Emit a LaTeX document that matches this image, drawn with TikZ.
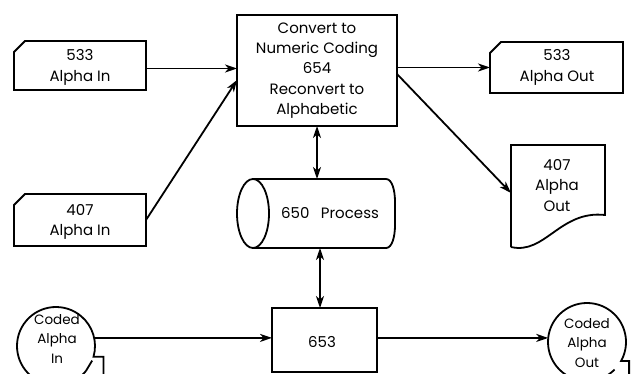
\documentclass[tikz,border=0pt]{standalone}
\usepackage{fontspec}
\setmainfont{Poppins}
\usetikzlibrary{arrows.meta,calc}
\begin{document}
\begin{tikzpicture}[x=1pt,y=-1pt,line width=1.8pt,
  txt/.style={align=center,font=\fontsize{15}{20.3}\selectfont,inner sep=0pt},
  ctxt/.style={align=center,font=\fontsize{13.5}{19.5}\selectfont,inner sep=0pt},
  area/.style={draw=none,inner sep=0pt,outer sep=0pt},
  boxn/.style={draw,inner sep=0pt,outer sep=0pt,align=center,font=\fontsize{15}{20.3}\selectfont},
  arr/.style={-{Stealth[length=12pt,width=8pt,inset=3.5pt]}},
  darr/.style={{Stealth[length=12pt,width=8pt,inset=3.5pt]}-{Stealth[length=12pt,width=8pt,inset=3.5pt]}}]
\useasboundingbox (0,0) rectangle (631,374);

% main box
\node[boxn,minimum width=160pt,minimum height=111pt] (conv) at (317,70.5)
  {Convert to\\Numeric Coding\\654\\Reconvert to\\Alphabetic};

% input cards
\node[area,minimum width=132pt,minimum height=49pt] (a533) at (80,65.5) {};
\node[txt] (a533t) at (80,67.5) {533\\Alpha In};
\draw ($(a533.north west)+(0,11)$) -- ($(a533.north west)+(11,0)$) -- (a533.north east)
  -- (a533.south east) -- (a533.south west) -- cycle;

\node[area,minimum width=132pt,minimum height=52pt] (a407) at (80,220) {};
\node[txt] (a407t) at (80,222) {407\\Alpha In};
\draw ($(a407.north west)+(0,11)$) -- ($(a407.north west)+(11,0)$) -- (a407.north east)
  -- (a407.south east) -- (a407.south west) -- cycle;

% output card
\node[area,minimum width=133pt,minimum height=51pt] (o533) at (556.5,67.5) {};
\node[txt] (o533t) at (557,67.5) {533\\Alpha Out};
\draw ($(o533.north west)+(0,11)$) -- ($(o533.north west)+(11,0)$) -- (o533.north east)
  -- (o533.south east) -- (o533.south west) -- cycle;

% document
\node[area,minimum width=94pt,minimum height=102pt] (o407) at (558,196) {};
\node[txt] (o407t) at (557,185.5) {407\\Alpha\\Out};
\draw (o407.south west) -- (o407.north west) -- (o407.north east) -- (605,215)
  .. controls (560,210) and (545,255) .. (o407.south west);

% cylinder
\node[area,minimum width=158pt,minimum height=69pt] (proc) at (316,213.5) {};
\node[txt] (proct) at (330,213) {650\hspace{0.5em} Process};
\draw (253,213.5) ellipse [x radius=16, y radius=34.5];
\draw (253,179) -- (386,179) .. controls (392,179) and (395,190) .. (395,202)
  -- (395,225) .. controls (395,237) and (392,248) .. (386,248) -- (253,248);

% 653 box
\node[boxn,minimum width=105pt,minimum height=64pt] (b653) at (324.5,340) {};
\node[txt] (b653t) at (322,342) {653};

% coded tapes
\node[area,minimum size=78pt,circle] (cin) at (56,346) {};
\node[ctxt] (cint) at (57,339) {Coded\\Alpha\\In};
\draw ($(cin.center)+(40:39)$) arc[start angle=40,end angle=376,radius=39] -- ++(10,0) -- ++(0,30);
\draw ($(cin.center)+(40:39)$) -- ($(cin.center)+(22:39)$);

\node[area,minimum size=78pt,circle] (cout) at (587,342) {};
\node[ctxt] (coutt) at (587,343) {Coded\\Alpha\\Out};
\draw ($(cout.center)+(45:39)$) arc[start angle=45,end angle=389,radius=39] -- ++(8,0) -- ++(0,30);

% connectors
\draw[arr] ($(a533.east)+(0,3)$) coordinate (s1) -- (s1 -| conv.west);
\draw[arr] (a407.east) -- ($(conv.west)+(0,9.5)$);
\draw[arr] (conv.east |- o533.west) -- (o533.west);
\draw[arr] ($(conv.east)+(0,3.5)$) -- ($(o407.west)+(0,-3)$);
\draw[darr] (conv.south) -- (conv.south |- proc.north);
\draw[darr] ($(proc.south)+(4,0)$) coordinate (s2) -- (s2 |- b653.north);
\draw[arr] (cin.12) -- (cin.12 -| b653.west);
\draw[arr] (b653.east |- cout.174) -- (cout.174);
\end{tikzpicture}
\end{document}
